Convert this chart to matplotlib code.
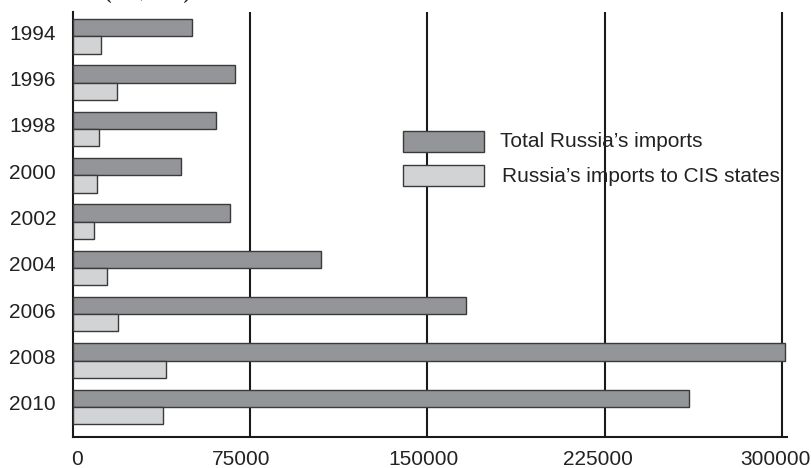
import matplotlib
matplotlib.use("Agg")
import matplotlib.pyplot as plt
from matplotlib.patches import Rectangle
from matplotlib.transforms import ScaledTranslation

plt.rcParams['font.family'] = ['Liberation Sans', 'DejaVu Sans']

years = ["1994", "1996", "1998", "2000", "2002", "2004", "2006", "2008", "2010"]
total_imports = [50300, 68500, 60800, 46000, 66700, 104900, 166200, 301300, 260600]
cis_imports = [12000, 18700, 11200, 10200, 9000, 14300, 19100, 39500, 38400]
x_ticks = [0, 75000, 150000, 225000, 300000]
x_tick_labels = ["0", "75000", "150000", "225000", "300000"]
series_names = ["Total Russia\u2019s imports", "Russia\u2019s imports to CIS states"]

dark = "#939598"
light = "#d2d3d5"
edge = "#3a3a3a"

W, H = 812, 468
fig = plt.figure(figsize=(W / 100, H / 100), dpi=100)
ax = fig.add_axes([72.7 / W, 1 - 436.5 / H, (787.5 - 72.7) / W, (436.5 - 11.5) / H])

bar_h = 0.373
pos = list(range(len(years)))
ax.barh([p - bar_h / 2 for p in pos], total_imports, height=bar_h,
        color=dark, edgecolor=edge, linewidth=1.0, zorder=3)
ax.barh([p + bar_h / 2 for p in pos], cis_imports, height=bar_h,
        color=light, edgecolor=edge, linewidth=1.0, zorder=3)

ax.set_xlim(0, 302300)
ax.set_ylim(8.64, -0.535)

# vertical reference lines
for v in x_ticks[1:]:
    ax.axvline(v, color="#1a1a1a", linewidth=1.5, zorder=2)

for side in ("top", "right"):
    ax.spines[side].set_visible(False)
for side in ("left", "bottom"):
    ax.spines[side].set_color("#1a1a1a")
    ax.spines[side].set_linewidth(1.5)

ax.set_yticks(pos)
ax.set_yticklabels(years, fontsize=15, color="#222222")
ax.set_xticks(x_ticks)
ax.set_xticklabels(x_tick_labels, fontsize=15, color="#222222")
ax.tick_params(axis="y", length=0, pad=12)
ax.tick_params(axis="x", length=0, pad=10)

# small per-label nudges
for lab in ax.get_yticklabels():
    lab.set_transform(lab.get_transform() + ScaledTranslation(0, 4 / 100, fig.dpi_scale_trans))
for lab, dx in zip(ax.get_xticklabels(), [4, -9, -4, -7, -7]):
    lab.set_transform(lab.get_transform() + ScaledTranslation(dx / 100, 0, fig.dpi_scale_trans))

# legend drawn as boxes with labels
legend_items = [(130.7, dark, series_names[0], 500), (165.0, light, series_names[1], 502)]
for top, col, name, tx in legend_items:
    fig.patches.append(Rectangle((402.7 / W, 1 - (top + 21) / H), 81.5 / W, 21 / H,
                                 transform=fig.transFigure, facecolor=col,
                                 edgecolor=edge, linewidth=1.0))
    fig.text(tx / W, 1 - (top + 11) / H, name, fontsize=15, color="#222222",
             ha="left", va="center")

fig.text(148 / W, 1 - 3 / H, "(US$ mln)", fontsize=14, fontweight="bold",
         family="Liberation Serif", ha="center", va="bottom", color="#222222")

fig.savefig("out.png", dpi=100)
